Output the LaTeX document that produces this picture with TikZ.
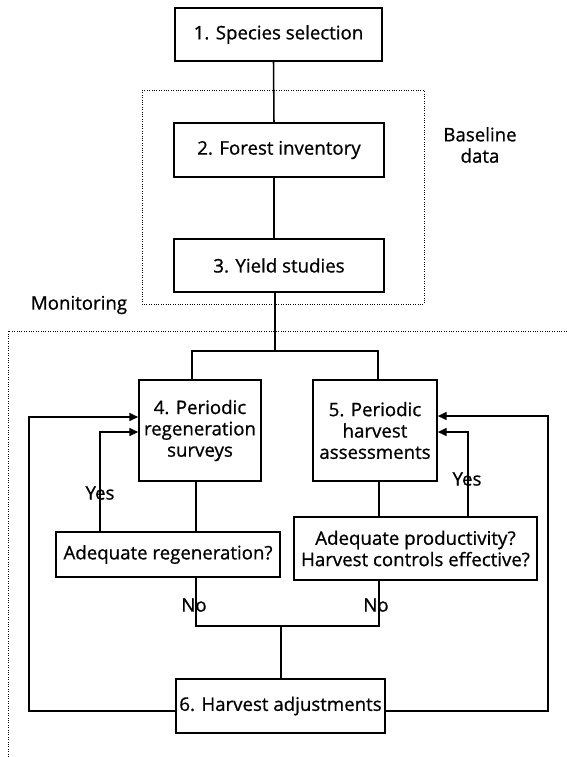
\documentclass[tikz,border=0pt]{standalone}
\usepackage{fontspec}
\setmainfont{Open Sans}[FakeBold=0.8]
\usetikzlibrary{arrows.meta}
\newdimen\pxu
\pxu=0.75pt
\begin{document}
\begin{tikzpicture}[x=0.75pt,y=-0.75pt,
  box/.style={draw, line width=1.3pt, inner sep=0pt, align=center, font=\fontsize{14}{16}\selectfont},
  lbl/.style={inner sep=0pt, align=center, font=\fontsize{14}{16}\selectfont},
  con/.style={line width=1.15pt},
  arr/.style={con, -{Triangle[length=6.5pt,width=6pt]}},
  dotl/.style={line width=0.6pt, dash pattern=on 0.6pt off 1.2pt}]
\useasboundingbox (0,0) rectangle (567,757);

% dotted regions
\draw[dotl] (142,90) rectangle (424,304);
\draw[dotl] (567,331) -- (8,331) -- (8,757);

% boxes
\node[box, minimum width=207\pxu, minimum height=53\pxu] (n1) at (278.5,34.5) {1. Species selection};
\node[box, minimum width=210\pxu, minimum height=54\pxu] (n2) at (279,150) {2. Forest inventory};
\node[box, minimum width=210\pxu, minimum height=53\pxu] (n3) at (279,265.5) {3. Yield studies};
\node[box, minimum width=122\pxu, minimum height=101\pxu] (n4) at (200,430.5) {4. Periodic\\regeneration\\surveys};
\node[box, minimum width=124\pxu, minimum height=101\pxu] (n5) at (375,430.5) {5. Periodic\\harvest\\assessments};
\node[box, minimum width=224\pxu, minimum height=45\pxu] (q1) at (168,554.5) {Adequate regeneration?};
\node[box, minimum width=243\pxu, minimum height=63\pxu] (q2) at (415.5,548.5) {Adequate productivity?\\Harvest controls effective?};
\node[box, minimum width=209\pxu, minimum height=54\pxu] (n6) at (280.5,706) {6. Harvest adjustments};

% labels
\node[lbl] (bd) at (480,145) {Baseline\\data};
\node[lbl] (mon) at (79,305) {Monitoring};

% coordinates
\coordinate (j) at (275,351);
\coordinate (jL) at (192,351);
\coordinate (jR) at (378,351);
\coordinate (y1) at (100,432);
\coordinate (o1) at (29,417);
\coordinate (y2) at (468,432);
\coordinate (o2) at (548,416);
\coordinate (nL) at (196,626);
\coordinate (nR) at (379,626);
\coordinate (nM) at (281,626);

% connectors
\draw[con] ([xshift=-5\pxu]n1.south) -- ([xshift=-5\pxu]n2.north);
\draw[con] ([xshift=-5\pxu]n2.south) -- ([xshift=-5\pxu]n3.north);
\draw[con] ([xshift=-4\pxu]n3.south) -- (j);
\draw[con] (jL |- n4.north) -- (jL) -- (jR) -- (jR |- n5.north);
\draw[con] (nL |- n4.south) -- (nL |- q1.north);
\draw[con] (nR |- n5.south) -- (nR |- q2.north);
\draw[arr] (y1 |- q1.north) -- (y1) -- (y1 -| n4.west);
\draw[arr] (y2 |- q2.north) -- (y2) -- (y2 -| n5.east);
\draw[arr] ([yshift=-5\pxu]n6.west) -| (o1) -- (o1 -| n4.west);
\draw[arr] ([yshift=-5\pxu]n6.east) -| (o2) -- (o2 -| n5.east);
\draw[con] (nL |- q1.south) -- (nL) -- (nR) -- (nR |- q2.south);
\draw[con] (nM) -- (nM |- n6.north);

% yes / no labels
\node[lbl] (yes1) at (100,493) {Yes};
\node[lbl] (yes2) at (467,479) {Yes};
\node[lbl] (no1) at (194,605) {No};
\node[lbl] (no2) at (376,605) {No};
\end{tikzpicture}
\end{document}
